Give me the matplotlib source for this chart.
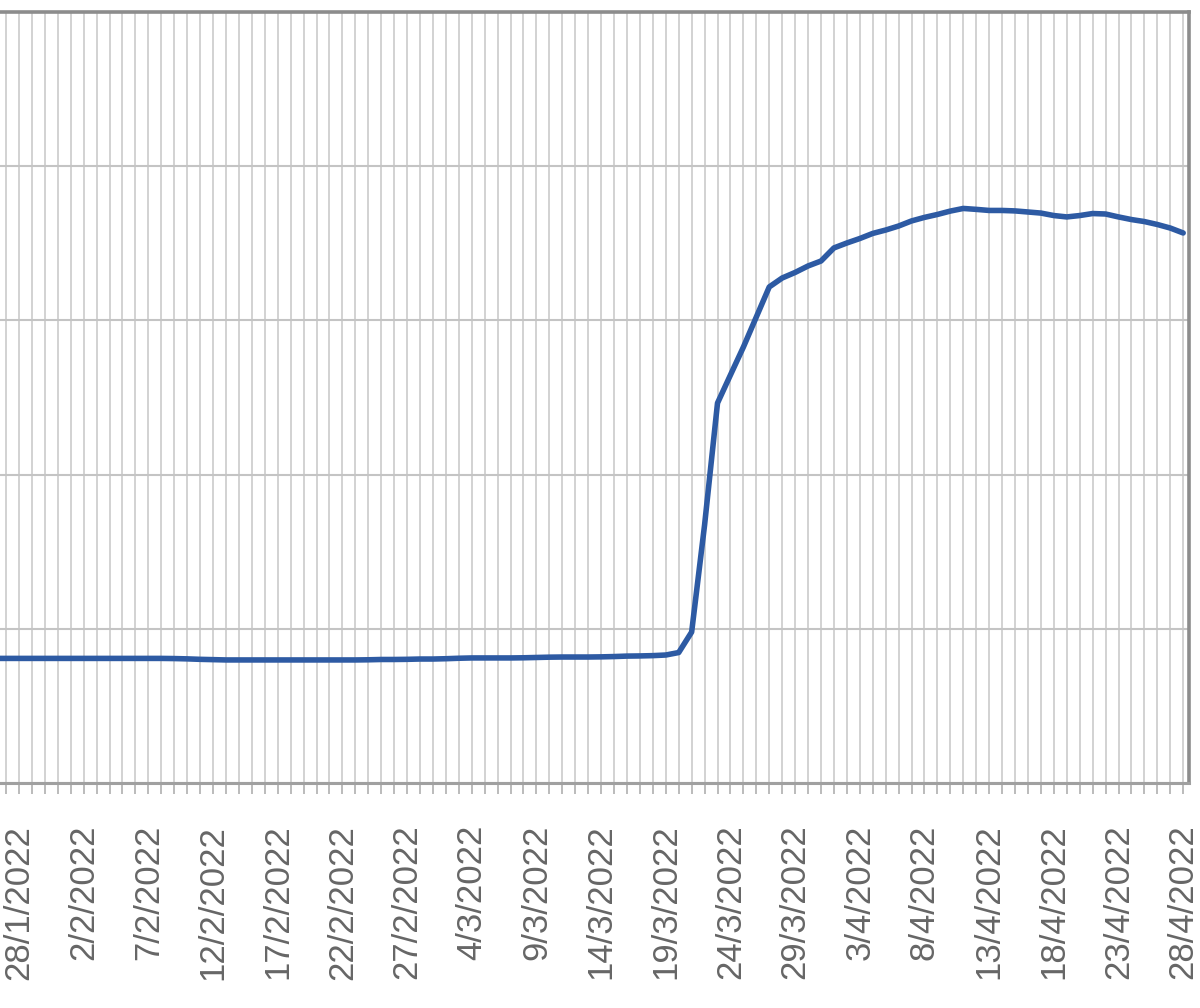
import matplotlib
matplotlib.use("Agg")
import matplotlib.pyplot as plt
import numpy as np
from datetime import date, timedelta

# ---- data ----
start_date = date(2022, 1, 26)
values = [
    80.8, 80.8, 80.8, 80.8, 80.8, 80.8, 80.8, 80.8, 80.8, 80.8,   # 26/1 - 4/2
    80.8, 80.8, 80.8, 80.8, 80.7, 80.5, 80.2,                     # 5/2 - 11/2
    80.0, 79.8, 79.8, 79.8, 79.8, 79.8, 79.8, 79.8, 79.8, 79.8,   # 12/2 - 21/2
    79.8, 79.8, 79.9,                                             # 22/2 - 24/2
    80.1, 80.1, 80.2, 80.4, 80.4, 80.6,                           # 25/2 - 2/3
    80.9, 81.1, 81.1, 81.1, 81.1, 81.2, 81.4,                     # 3/3 - 9/3
    81.6, 81.7, 81.7, 81.7, 81.8, 82.0,                           # 10/3 - 15/3
    82.3, 82.4, 82.6, 83.0, 84.6, 97.9, 167.3, 246.4,             # 16/3 - 23/3
    264.6, 282.7, 302.2, 321.7, 327.5, 331.1, 335.3, 338.5,       # 24/3 - 31/3
    347.0, 350.2, 353.1, 356.4, 358.6, 361.2, 364.5, 366.8,       # 1/4 - 8/4
    368.7, 370.9, 372.6, 372.0, 371.3, 371.3, 371.0, 370.3,       # 9/4 - 16/4
    369.6, 368.0, 367.1, 368.0, 369.3, 369.0, 367.1, 365.4,       # 17/4 - 24/4
    364.1, 362.2, 359.9, 356.7,                                   # 25/4 - 28/4
]
tick_labels = ["28/1/2022", "2/2/2022", "7/2/2022", "12/2/2022", "17/2/2022",
               "22/2/2022", "27/2/2022", "4/3/2022", "9/3/2022", "14/3/2022",
               "19/3/2022", "24/3/2022", "29/3/2022", "3/4/2022", "8/4/2022",
               "13/4/2022", "18/4/2022", "23/4/2022", "28/4/2022"]
y_grid = [0, 100, 200, 300, 400, 500]

# ---- helpers ----
def to_day(d):
    return (d - date(2022, 1, 28)).days

def parse(lbl):
    dd, mm, yy = (int(p) for p in lbl.split("/"))
    return date(yy, mm, dd)

x = np.array([to_day(start_date + timedelta(days=i)) for i in range(len(values))])
tick_pos = [to_day(parse(l)) for l in tick_labels]

fig = plt.figure(figsize=(12, 10.08), dpi=100)
ax = fig.add_axes([0.0, 1 - 783 / 1008, 1189 / 1200, (783 - 12) / 1008])

ax.plot(x, values, color="#2d5aa3", lw=4.0, solid_joinstyle="round",
        solid_capstyle="round", zorder=3)

ax.set_xlim(-1.47, 90.45)
ax.set_ylim(y_grid[0], y_grid[-1])

ax.set_xticks(tick_pos)
ax.set_xticklabels(tick_labels, rotation=90, family="Liberation Sans",
                   fontsize=25, color="#666666")
ax.set_xticks(np.arange(-1, 91), minor=True)
ax.set_yticks(y_grid)
ax.set_yticklabels([])
ax.tick_params(axis="y", length=0)
ax.tick_params(axis="x", which="both", direction="out", length=8,
               width=1.3, color="#b5b5b5", pad=22)

ax.grid(True, which="minor", axis="x", color="#d2d2d2", lw=1.4)
ax.grid(True, which="major", axis="x", color="#d2d2d2", lw=1.4)
ax.grid(True, which="major", axis="y", color="#c4c4c4", lw=1.5)
ax.set_axisbelow(True)

for side in ("top", "right"):
    ax.spines[side].set_color("#8c8c8c")
    ax.spines[side].set_linewidth(2.6)
ax.spines["bottom"].set_color("#a0a0a0")
ax.spines["bottom"].set_linewidth(2.2)
ax.spines["left"].set_visible(False)

fig.savefig("out.png", dpi=100, facecolor="white")
